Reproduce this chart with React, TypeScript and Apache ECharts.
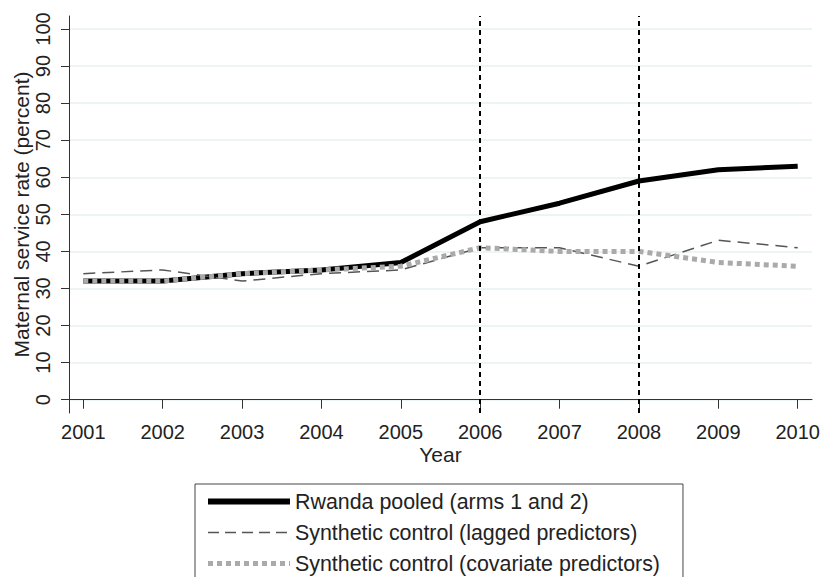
import React, { useEffect, useRef } from "react";
import * as echarts from "echarts";

const years = [2001, 2002, 2003, 2004, 2005, 2006, 2007, 2008, 2009, 2010];
const rwandaPooled = [32, 32, 34, 35, 37, 48, 53, 59, 62, 63];
const syntheticLagged = [34, 35, 32, 34, 35, 41, 41, 36, 43, 41];
const syntheticCovariate = [32, 32, 34, 35, 36, 41, 40, 40, 37, 36];
const yTicks = [0, 10, 20, 30, 40, 50, 60, 70, 80, 90, 100];
const markerYears = [2006, 2008];
const seriesNames = [
  "Rwanda pooled (arms 1 and 2)",
  "Synthetic control (lagged predictors)",
  "Synthetic control (covariate predictors)",
];

const FONT = "Arial, 'Liberation Sans', sans-serif";

export default function App() {
  const ref = useRef<HTMLDivElement>(null);
  useEffect(() => {
    if (!ref.current) return;
    const chart = echarts.init(ref.current, undefined, { renderer: "svg" });
    const pair = (vals: number[]) => years.map((y, i) => [y, vals[i]]);
    const styles = [
      { color: "#000", width: 5, type: "solid" as any },
      { color: "#555", width: 1.5, type: [12, 7] as any },
      { color: "#aaa", width: 5, type: [5, 4] as any, cap: "butt" },
    ];
    const legendStyles = [
      { color: "#000", width: 6, type: "solid" as any },
      { color: "#555", width: 1.5, type: [11, 6] as any },
      { color: "#aaa", width: 5, type: [5, 4] as any, cap: "butt" },
    ];
    chart.setOption({
      animation: false,
      backgroundColor: "#ffffff",
      textStyle: { fontFamily: FONT },
      grid: {
        left: 69,
        top: 16,
        right: 10,
        bottom: 164,
        containLabel: false,
        outerBoundsMode: "none",
      },
      xAxis: {
        type: "value",
        min: 2000.82,
        max: 2010.18,
        name: "Year",
        nameLocation: "middle",
        nameGap: 31,
        nameMoveOverlap: false,
        nameTextStyle: { fontSize: 21, color: "#222", fontFamily: FONT },
        axisLine: { show: true, lineStyle: { color: "#333", width: 1 } },
        axisTick: { show: true, length: 9, customValues: years, lineStyle: { color: "#333" } },
        axisLabel: {
          customValues: years,
          fontSize: 20,
          color: "#222",
          margin: 9,
          fontFamily: FONT,
          formatter: (v: number) => String(Math.round(v)),
        },
        splitLine: { show: false },
      },
      yAxis: {
        type: "value",
        min: -3.59,
        max: 103.5,
        name: "Maternal service rate (percent)",
        nameLocation: "middle",
        nameGap: 37,
        nameMoveOverlap: false,
        nameTextStyle: { fontSize: 21, color: "#222", fontFamily: FONT },
        axisLine: { show: true, lineStyle: { color: "#333", width: 1 } },
        axisTick: { show: true, length: 8, customValues: yTicks, lineStyle: { color: "#333" } },
        axisLabel: {
          customValues: yTicks,
          rotate: 90,
          fontSize: 20,
          color: "#222",
          margin: 16,
          fontFamily: FONT,
        },
        splitLine: { show: true, lineStyle: { color: "#e8f0f2", width: 1.5 } },
      },
      legend: {
        orient: "vertical",
        left: 195,
        top: 484,
        width: 600,
        height: 300,
        padding: [7, 23, 8, 10],
        itemWidth: 82,
        itemHeight: 21,
        itemGap: 10,
        itemTextGap: 12,
        borderColor: "#444",
        borderWidth: 1,
        borderRadius: 0,
        itemStyle: { opacity: 0 },
        textStyle: { fontSize: 21.4, color: "#222", fontFamily: FONT },
        data: seriesNames.map((n, i) => ({
          name: n,
          lineStyle: legendStyles[i],
        })),
      },
      series: seriesNames.map((n, i) => ({
        name: n,
        type: "line",
        data: pair([rwandaPooled, syntheticLagged, syntheticCovariate][i]),
        symbol: "none",
        lineStyle: styles[i],
        itemStyle: { color: styles[i].color },
        ...(i === 0
          ? {
              markLine: {
                silent: true,
                symbol: "none",
                label: { show: false },
                lineStyle: { color: "#000", width: 2, type: [5, 4] },
                data: markerYears.map((y) => ({ xAxis: y })),
              },
            }
          : {}),
      })),
    });
    return () => chart.dispose();
  }, []);
  return <div ref={ref} style={{ width: 822, height: 577, position: "absolute", left: 0, top: 0 }} />;
}
